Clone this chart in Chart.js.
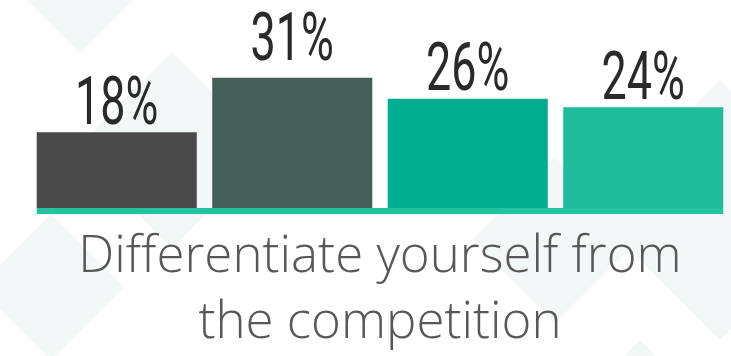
<!DOCTYPE html>
<html>
<head>
<meta charset="utf-8">
<title>Differentiate yourself from the competition</title>
<script src="https://cdn.jsdelivr.net/npm/chart.js@4.4.1/dist/chart.umd.min.js"></script>
<style>
    html, body { margin: 0; padding: 0; background: #ffffff; }
    .chart-container { position: relative; width: 731px; height: 356px; }
</style>
</head>
<body>
<div class="chart-container">
    <canvas id="chart-competition"></canvas>
</div>
<script>
// Dados do gráfico
const categories = [['Differentiate yourself from', 'the competition']];
const seriesNames = ['Grupo 1', 'Grupo 2', 'Grupo 3', 'Grupo 4'];
const seriesValues = [18, 31, 26, 24];

// Estilo
const barColors = ['#4a4a4a', '#435f58', '#00ad8f', '#1fbb9a'];
const labelGaps = [8, 18, 9, 8];
const baselineColor = '#25c2a0';
const diamondColor = '#f4f7f7';

// Losangos claros no fundo
const backgroundDiamonds = {
    id: 'backgroundDiamonds',
    beforeDraw(chart) {
        const ctx = chart.ctx;
        ctx.save();
        ctx.fillStyle = '#ffffff';
        ctx.fillRect(0, 0, chart.width, chart.height);
        ctx.fillStyle = diamondColor;
        const shapes = [
            [80, -30, 83],
            [172, 150, 98],
            [51, 287, 73],
            [720, 210, 130],
            [555, 240, 83],
            [640, 420, 80]
        ];
        shapes.forEach(([cx, cy, r]) => {
            ctx.beginPath();
            ctx.moveTo(cx, cy - r);
            ctx.lineTo(cx + r, cy);
            ctx.lineTo(cx, cy + r);
            ctx.lineTo(cx - r, cy);
            ctx.closePath();
            ctx.fill();
        });
        ctx.restore();
    }
};

// Linha de base verde sob as barras
const baselinePlugin = {
    id: 'baselinePlugin',
    afterDatasetsDraw(chart) {
        const first = chart.getDatasetMeta(0).data[0];
        const last = chart.getDatasetMeta(chart.data.datasets.length - 1).data[0];
        if (!first || !last) return;
        const left = first.x - first.width / 2;
        const right = last.x + last.width / 2;
        const y = chart.scales.y.getPixelForValue(0);
        const ctx = chart.ctx;
        ctx.save();
        ctx.fillStyle = baselineColor;
        ctx.fillRect(left, y, right - left, 6);
        ctx.restore();
    }
};

// Rótulos de valor acima das barras (fonte estreitada)
const valueLabels = {
    id: 'valueLabels',
    afterDatasetsDraw(chart) {
        const ctx = chart.ctx;
        ctx.save();
        ctx.fillStyle = '#2a2a2a';
        ctx.font = '400 66px Roboto';
        ctx.textAlign = 'center';
        ctx.textBaseline = 'alphabetic';
        chart.data.datasets.forEach((ds, i) => {
            const bar = chart.getDatasetMeta(i).data[0];
            if (!bar) return;
            const text = ds.data[0] + '%';
            ctx.save();
            ctx.translate(bar.x, bar.y - ds.labelGap);
            ctx.scale(0.68, 1);
            ctx.fillText(text, 0, 0);
            ctx.restore();
        });
        ctx.restore();
    }
};

const datasets = seriesNames.map((name, i) => ({
    label: name,
    data: [seriesValues[i]],
    backgroundColor: barColors[i],
    borderWidth: 0,
    labelGap: labelGaps[i],
    barPercentage: 0.912,
    categoryPercentage: 1
}));

const ctx = document.getElementById('chart-competition').getContext('2d');
new Chart(ctx, {
    type: 'bar',
    data: {
        labels: categories,
        datasets: datasets
    },
    options: {
        responsive: true,
        maintainAspectRatio: false,
        animation: false,
        layout: {
            padding: { left: 29, right: 0, top: 0, bottom: 0 }
        },
        plugins: {
            legend: { display: false },
            tooltip: { enabled: false }
        },
        scales: {
            x: {
                grid: { display: false, drawTicks: false },
                border: { display: false },
                ticks: {
                    color: '#585858',
                    padding: 16,
                    maxRotation: 0,
                    font: {
                        family: "'Open Sans', sans-serif",
                        size: 51,
                        weight: 360,
                        lineHeight: 1.3
                    }
                },
                afterFit(scale) {
                    scale.height = 148;
                }
            },
            y: {
                display: false,
                min: 0,
                max: 49.5
            }
        }
    },
    plugins: [backgroundDiamonds, baselinePlugin, valueLabels]
});
</script>
</body>
</html>
